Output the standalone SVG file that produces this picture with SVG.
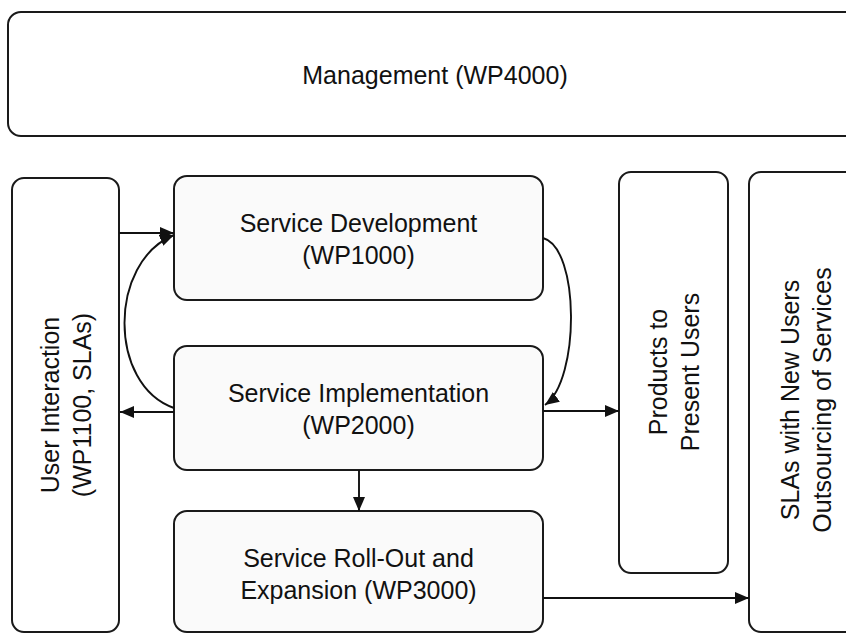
<svg xmlns="http://www.w3.org/2000/svg" width="846" height="633" viewBox="0 0 846 633">
<style>
.box{fill:#ffffff;stroke:#1a1a1a;stroke-width:2}
.svc{fill:#fafafa;stroke:#1a1a1a;stroke-width:2}
.t{font-family:"Liberation Sans",Arial,sans-serif;font-size:25px;fill:#111;text-anchor:middle}
.c{fill:none;stroke:#111;stroke-width:1.9}
</style>
<defs>
<marker id="ah" viewBox="0 0 14 12" refX="14" refY="6" markerWidth="14" markerHeight="12" markerUnits="userSpaceOnUse" orient="auto">
<path d="M0,0 L14,6 L0,12 Z" fill="#111"/>
</marker>
</defs>
<rect width="846" height="633" fill="#ffffff"/>
<g id="management">
<rect class="box" x="8" y="12" width="860" height="124" rx="13"/>
<text class="t" x="435" y="84">Management (WP4000)</text>
</g>
<g id="user-interaction">
<rect class="box" x="12" y="178" width="107" height="454" rx="12"/>
<text class="t" transform="translate(66 405) rotate(-90)"><tspan x="0" y="-7">User Interaction</tspan><tspan x="0" y="25">(WP1100, SLAs)</tspan></text>
</g>
<g id="service-development">
<rect class="svc" x="174" y="176" width="369" height="124" rx="13"/>
<text class="t"><tspan x="358.5" y="232">Service Development</tspan><tspan x="358.5" y="264">(WP1000)</tspan></text>
</g>
<g id="service-implementation">
<rect class="svc" x="174" y="346" width="369" height="124" rx="13"/>
<text class="t"><tspan x="358.5" y="402">Service Implementation</tspan><tspan x="358.5" y="434">(WP2000)</tspan></text>
</g>
<g id="service-rollout">
<rect class="svc" x="174" y="511" width="369" height="121" rx="13"/>
<text class="t"><tspan x="358.5" y="567">Service Roll-Out and</tspan><tspan x="358.5" y="599">Expansion (WP3000)</tspan></text>
</g>
<g id="products">
<rect class="box" x="619" y="172" width="109" height="401" rx="12"/>
<text class="t" transform="translate(674 372) rotate(-90)"><tspan x="0" y="-7">Products to</tspan><tspan x="0" y="25">Present Users</tspan></text>
</g>
<g id="slas">
<rect class="box" x="749" y="172" width="120" height="460" rx="12"/>
<text class="t" transform="translate(806 400) rotate(-90)"><tspan x="0" y="-7">SLAs with New Users</tspan><tspan x="0" y="25">Outsourcing of Services</tspan></text>
</g>
<g id="connectors">
<path class="c" d="M119 233 L174 233" marker-end="url(#ah)"/>
<path class="c" d="M174 408 C108 385 108 262 174 235" marker-end="url(#ah)"/>
<path class="c" d="M174 412 L120 412" marker-end="url(#ah)"/>
<path class="c" d="M543 238 C580 248 580 380 545 405" marker-end="url(#ah)"/>
<path class="c" d="M543 411 L619 411" marker-end="url(#ah)"/>
<path class="c" d="M359 470 L359 511" marker-end="url(#ah)"/>
<path class="c" d="M543 598 L749 598" marker-end="url(#ah)"/>
</g>
</svg>
